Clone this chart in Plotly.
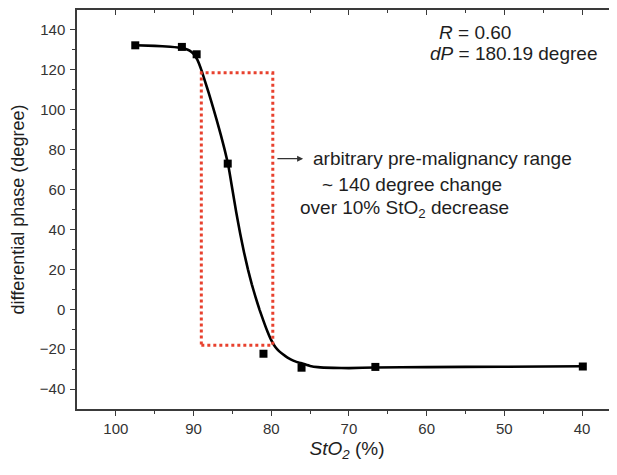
import plotly.graph_objects as go

# measured data points
sto2 = [97.5, 91.5, 89.6, 85.6, 81.0, 76.1, 66.6, 39.9]
phase = [132.3, 131.5, 127.8, 73.0, -22.3, -29.3, -28.9, -28.7]

# fitted curve
fit_x = [97.5, 95.0, 93.0, 92.0, 91.0, 90.5, 90.0, 89.5, 89.0, 88.5, 88.0, 87.5, 87.0, 86.5,
         86.0, 85.5, 85.0, 84.5, 84.0, 83.5, 83.0, 82.5, 82.0, 81.5, 81.0, 80.5, 80.0, 79.5,
         79.0, 78.5, 78.0, 77.5, 77.0, 76.5, 76.0, 75.0, 74.0, 72.0, 70.0, 66.6, 60.0, 50.0, 39.9]
fit_y = [132.3, 132.0, 131.6, 131.2, 130.5, 129.6, 128.0, 125.0, 120.0, 114.0, 107.8, 101.3,
         94.5, 87.5, 80.0, 71.5, 60.0, 48.5, 38.0, 28.5, 20.0, 12.5, 5.8, -0.3, -5.8, -11.0,
         -15.5, -18.8, -21.0, -22.6, -24.0, -25.1, -26.0, -26.7, -27.2, -28.4, -29.0, -29.4,
         -29.5, -29.2, -29.0, -28.8, -28.6]

# dotted range box
box_x = [89.0, 79.8]
box_y = [-18.0, 118.5]

# axis ticks
x_ticks = [100, 90, 80, 70, 60, 50, 40]
x_minor = [95, 85, 75, 65, 55, 45]
y_ticks = [-40, -20, 0, 20, 40, 60, 80, 100, 120, 140]
y_minor = [-30, -10, 10, 30, 50, 70, 90, 110, 130]

FONT = "Arial, Liberation Sans, sans-serif"
AX = "#3a3a3a"
TXT = "#1e1e1e"

fig = go.Figure()
fig.add_trace(go.Scatter(x=fit_x, y=fit_y, mode="lines",
                         line=dict(color="black", width=2.6, shape="spline", smoothing=0.4),
                         hoverinfo="skip", showlegend=False))
fig.add_trace(go.Scatter(x=sto2, y=phase, mode="markers",
                         marker=dict(symbol="square", size=8, color="black"),
                         showlegend=False))
# invisible trace to activate the mirror axes
fig.add_trace(go.Scatter(x=[70], y=[0], xaxis="x2", yaxis="y2", mode="markers",
                         marker=dict(opacity=0), hoverinfo="skip", showlegend=False))

fig.add_shape(type="rect", x0=box_x[0], x1=box_x[1], y0=box_y[0], y1=box_y[1],
              xref="x", yref="y", line=dict(color="#e8412e", width=3, dash="dot"))

# arrow
fig.add_annotation(x=75.9, y=75.5, ax=79.4, ay=75.5, xref="x", yref="y", axref="x", ayref="y",
                   showarrow=True, arrowhead=2, arrowsize=1, arrowwidth=1.2, arrowcolor="#333", text="")

tf = dict(family=FONT, size=19, color=TXT)
fig.add_annotation(x=58.0, y=75.5, xref="x", yref="y", text="arbitrary pre-malignancy range",
                   showarrow=False, font=tf)
fig.add_annotation(x=61.9, y=62.5, xref="x", yref="y", text="~ 140 degree change",
                   showarrow=False, font=tf)
fig.add_annotation(x=62.8, y=50.5, xref="x", yref="y",
                   text="over 10% StO<sub>2</sub> decrease", showarrow=False, font=tf)
fig.add_annotation(x=53.8, y=138.5, xref="x", yref="y",
                   text="<i>R</i> = 0.60", showarrow=False, font=tf)
fig.add_annotation(x=48.8, y=128, xref="x", yref="y",
                   text="<i>dP</i> = 180.19 degree", showarrow=False, font=tf)

xr = [105, 35.5]
yr = [-50, 150]
common = dict(showline=True, linecolor=AX, linewidth=1.5, showgrid=False, zeroline=False,
              tickcolor=AX, tickwidth=1.3, automargin=False)
# page has an 8px body margin, so the figure is sized/offset to compensate
fig.update_layout(
    width=609, height=467,
    margin=dict(l=69, r=0, t=2, b=66, pad=0, autoexpand=False),
    plot_bgcolor="white", paper_bgcolor="white",
    font=dict(family=FONT, size=15, color="#333"),
    xaxis=dict(range=xr, tickvals=x_ticks, ticks="outside", ticklen=5,
               minor=dict(tickvals=x_minor, ticks="outside", ticklen=3, tickcolor=AX),
               title=dict(text="<i>StO</i><sub><i>2</i></sub> (%)", font=dict(size=19, color=TXT), standoff=6),
               tickfont=dict(size=15, color="#333"), **common),
    yaxis=dict(range=yr, tickvals=y_ticks, ticks="outside", ticklen=5, ticklabelstandoff=2,
               minor=dict(tickvals=y_minor, ticks="outside", ticklen=3, tickcolor=AX),
               title=dict(text="differential phase (degree)", font=dict(size=18, color=TXT), standoff=22),
               tickfont=dict(size=15, color="#333"), **common),
    xaxis2=dict(range=xr, overlaying="x", side="top", anchor="y2", showticklabels=False,
                tickvals=x_ticks, ticks="inside", ticklen=5,
                minor=dict(tickvals=x_minor, ticks="inside", ticklen=3, tickcolor=AX),
                **common),
    yaxis2=dict(range=yr, overlaying="y", side="right", anchor="x2", showticklabels=False,
                tickvals=y_ticks, ticks="inside", ticklen=5,
                minor=dict(tickvals=y_minor, ticks="inside", ticklen=3, tickcolor=AX),
                **common),
)

fig.write_html("out.html")
